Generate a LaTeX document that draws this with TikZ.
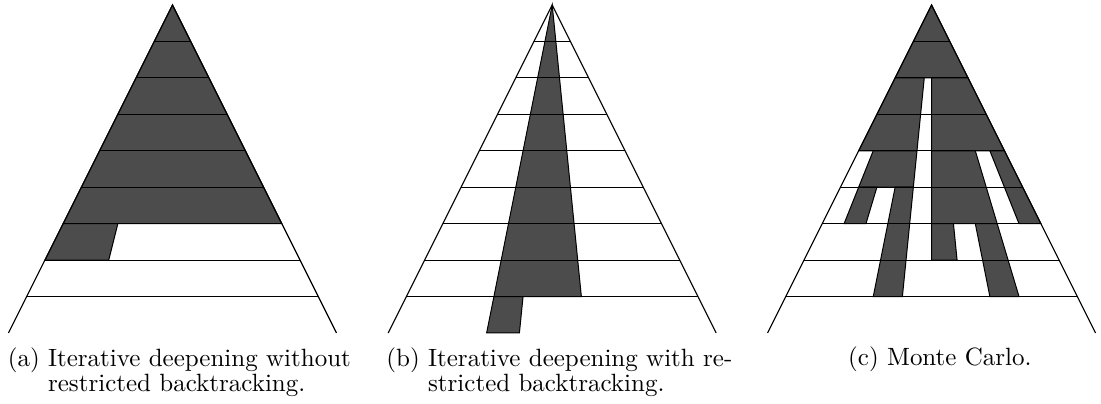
\documentclass[tikz,border=0pt]{standalone}
\usepackage{tikz}
\usetikzlibrary{calc}

% one level of the search tree is the unit; a point at fraction f of level k
% lies on the ray from the apex: ((f-0.5)*k, -k)
\newcommand{\visit}[4]{%
  \filldraw[visited] ({(#1-0.5)*#3},-#3) -- ({(#2-0.5)*#3},-#3)
    -- ({(#2-0.5)*#4},-#4) -- ({(#1-0.5)*#4},-#4) -- cycle;}
\newcommand{\searchtree}{%
  \draw[side] (-4.5,-9) -- (0,0) -- (4.5,-9);
  \foreach \k in {1,...,8}
    \draw[level] ({-\k/2},-\k) -- ({\k/2},-\k);}

\begin{document}
\begin{tikzpicture}[
  x=14.58pt, y=14.58pt,
  visited/.style={fill=black!70, draw=black, line width=0.4pt},
  side/.style={draw=black, line width=0.45pt},
  level/.style={draw=black, line width=0.4pt},
  caption/.style={anchor=base west, inner sep=0pt, align=left,
    font=\fontsize{10}{10.3}\selectfont}
]
\useasboundingbox (0,0) rectangle (30.21,-11.06);

\coordinate (apexa) at (4.733,-0.137);
\coordinate (apexb) at (15.152,-0.137);
\coordinate (apexc) at (25.561,-0.137);

% (a) without restricted backtracking
\begin{scope}[shift={(apexa)}]
  \visit{0}{1}{0}{6}
  \visit{0}{0.25}{6}{7}
  \searchtree
\end{scope}

% (b) with restricted backtracking
\begin{scope}[shift={(apexb)}]
  \visit{0.3}{0.6}{0}{8}
  \visit{0.3}{0.4}{8}{9}
  \searchtree
\end{scope}

% (c) Monte Carlo
\begin{scope}[shift={(apexc)}]
  \visit{0}{1}{0}{2}
  \visit{0}{0.4}{2}{4}
  \visit{0.5}{1}{2}{4}
  \visit{0.1}{0.4}{4}{5}
  \visit{0.5}{0.8}{4}{6}
  \visit{0.9}{1}{4}{6}
  \visit{0.1}{0.2}{5}{6}
  \visit{0.3}{0.4}{5}{8}
  \visit{0.5}{0.6}{6}{7}
  \visit{0.7}{0.8}{6}{8}
  \searchtree
\end{scope}

% captions (base is the last line of a two-line node)
\node[caption] (capa) at (0.2,-10.754)
  {(a) Iterative deepening without\\\hphantom{(a) }restricted backtracking.};
\node[caption] (capb) at (10.59,-10.754)
  {(b) Iterative deepening with re-\\\hphantom{(b) }stricted backtracking.};
\node[caption] (capc) at (23.26,-10.04) {(c) Monte Carlo.};
\end{tikzpicture}
\end{document}
